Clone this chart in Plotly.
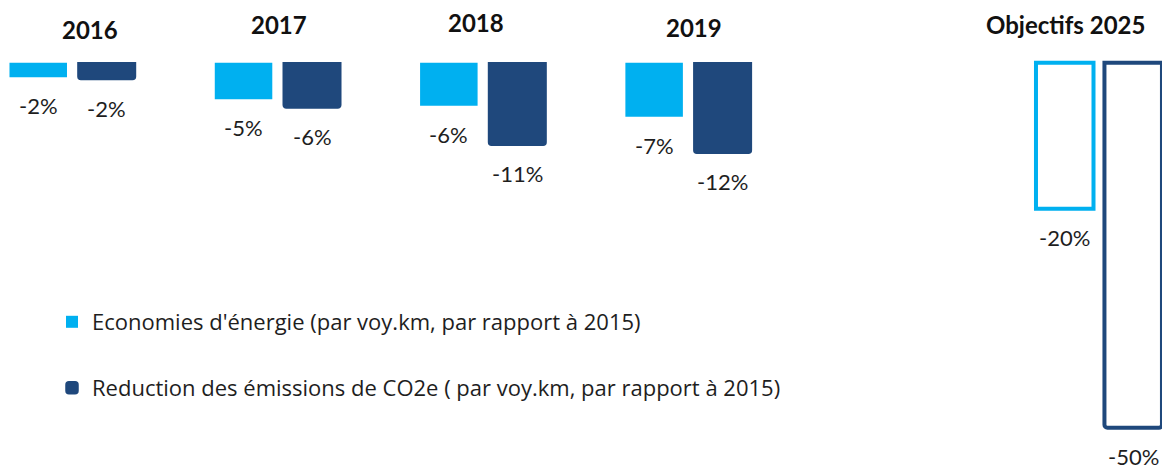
import plotly.graph_objects as go

# ---- data ----
categories = ["2016", "2017", "2018", "2019", "Objectifs 2025"]
axis_categories = ["2016", "2017", "2018", "2019", " ", "Objectifs 2025"]
energy_savings = [-2.0, -5.0, -5.9, -7.4, -20.0]
co2_reduction = [-2.3, -6.2, -11.3, -12.4, -50.0]
series_names = [
    "Economies d'énergie (par voy.km, par rapport à 2015)",
    "Reduction des émissions de CO2e ( par voy.km, par rapport à 2015)",
]
title_labels = ["2016", "2017", "2018", "2019", "Objectifs 2025"]

# ---- styles ----
LIGHT = "#00B0F0"
DARK = "#1F487C"
TEXT = "#1E1E1E"
FONT = "Lato, 'Open Sans', sans-serif"
LEG_FONT = "'Open Sans', Lato, sans-serif"
W, H = 1162, 465
title_xshift = [18, 1, -7, 6, -33]
title_ypx = [29, 25, 23, 27, 25]

is_target = [c.startswith("Objectifs") for c in categories]
cat_index = [axis_categories.index(c) for c in categories]

fig = go.Figure()
fig.add_trace(go.Bar(
    x=categories, y=energy_savings, name=series_names[0],
    marker=dict(
        color=["white" if t else LIGHT for t in is_target],
        line=dict(color=LIGHT, width=[4 if t else 0 for t in is_target]),
    ),
    legend="legend",
))
fig.add_trace(go.Bar(
    x=categories, y=co2_reduction, name=series_names[1],
    marker=dict(
        color=["white" if t else DARK for t in is_target],
        line=dict(color=DARK, width=[4 if t else 1.5 for t in is_target]),
        cornerradius=3,
    ),
    legend="legend2",
))

annotations = []
for si, vals in enumerate([energy_savings, co2_reduction]):
    for i, v in enumerate(vals):
        annotations.append(dict(
            x=cat_index[i], y=v, xref="x", yref="y", text=f"{round(v)}%",
            showarrow=False, yanchor="top", xanchor="center",
            xshift=(-34.3 if si == 0 else 34.3), yshift=-13,
            font=dict(family=FONT, size=22, color=TEXT),
        ))
for i, t in enumerate(title_labels):
    annotations.append(dict(
        x=cat_index[i], y=1 - title_ypx[i] / H, xref="x", yref="paper",
        text=f"<b>{t}</b>", showarrow=False, yanchor="middle", xanchor="center",
        xshift=title_xshift[i],
        font=dict(family=FONT, size=24, color="#111111"),
    ))

fig.update_layout(
    width=W, height=H,
    margin=dict(l=0, r=0, t=0, b=0),
    paper_bgcolor="white", plot_bgcolor="white",
    barmode="group", bargap=0.333, bargroupgap=0.16,
    xaxis=dict(type="category", categoryorder="array", categoryarray=axis_categories,
               range=[-0.353, 5.307], visible=False, fixedrange=True),
    yaxis=dict(range=[-55.1, 8.59], visible=False, fixedrange=True),
    annotations=annotations,
    showlegend=True,
    legend=dict(x=52 / W, y=1 - 322 / H, xanchor="left", yanchor="middle",
                bgcolor="rgba(0,0,0,0)", font=dict(family=LEG_FONT, size=22, color=TEXT)),
    legend2=dict(x=52 / W, y=1 - 388 / H, xanchor="left", yanchor="middle",
                 bgcolor="rgba(0,0,0,0)", font=dict(family=LEG_FONT, size=22, color=TEXT)),
    font=dict(family=FONT),
)

fig.write_html("out.html", config={"displayModeBar": False},
               post_script="document.body.style.margin='0';")
